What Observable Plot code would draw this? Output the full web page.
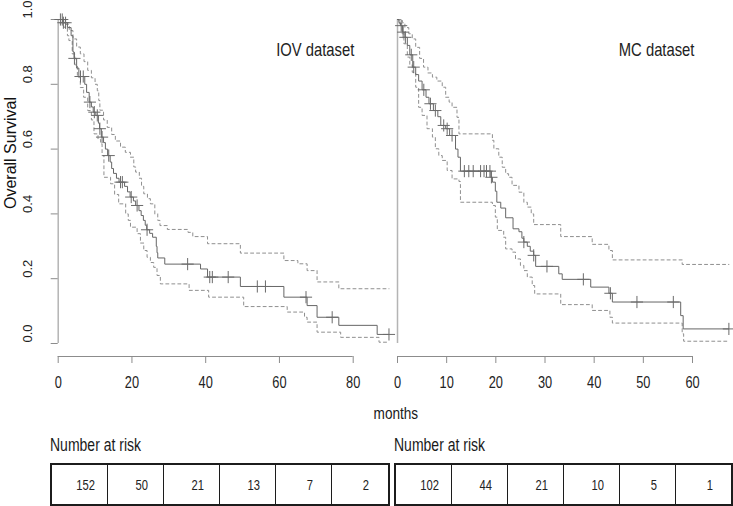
<!DOCTYPE html>
<html><head><meta charset="utf-8">
<script src="https://cdn.jsdelivr.net/npm/d3@7"></script>
<script src="https://cdn.jsdelivr.net/npm/@observablehq/plot@0.6"></script>
<style>
html,body{margin:0;padding:0;background:#fff;}
#chart{position:relative;width:733px;height:506px;overflow:hidden;background:#fff;font-family:"Liberation Sans",Arial,sans-serif;color:#1a1a1a;}
#chart svg{position:absolute;top:0;}
.lbl{position:absolute;height:20px;line-height:20px;white-space:nowrap;}
.lbl span{display:inline-block;transform:scaleX(0.8);}
.risk{position:absolute;top:463px;height:43px;box-sizing:border-box;border:2px solid #1c1c1c;display:flex;}
.risk div{flex:1;display:flex;align-items:center;justify-content:center;box-sizing:border-box;border-left:1.5px solid #1c1c1c;padding-left:12px;font-size:14px;color:#222;}
.risk div:first-child{border-left:none;}
.risk span{display:inline-block;transform:scaleX(0.8);}
</style></head><body><div id="chart"></div><script>
// ---------- data ----------
const survTicks = [0, 0.2, 0.4, 0.6, 0.8, 1.0];
const iovTicks = [0, 20, 40, 60, 80];
const mcTicks = [0, 10, 20, 30, 40, 50, 60];

// IOV dataset: [months, survival]
const iovKM = [[0,1],[1.2,0.99],[2.5,0.975],[3.5,0.95],[4.0,0.90],[4.3,0.88],[5.0,0.85],[5.6,0.824],[7.2,0.80],[7.7,0.775],[8.4,0.745],[9.0,0.73],[9.5,0.714],[10.2,0.704],[10.9,0.68],[11.2,0.663],[11.7,0.637],[12.3,0.62],[12.8,0.60],[13.4,0.58],[14.1,0.56],[14.5,0.54],[15.0,0.525],[15.8,0.51],[16.5,0.498],[18.0,0.485],[18.8,0.468],[19.5,0.452],[20.4,0.44],[21.0,0.426],[21.9,0.41],[22.5,0.395],[23.1,0.38],[23.6,0.365],[24.0,0.351],[24.8,0.34],[25.6,0.328],[26.6,0.30],[26.8,0.28],[27.0,0.264],[28.9,0.245],[38.6,0.23],[40.5,0.205],[49.4,0.176],[61.2,0.143],[67.5,0.117],[70.2,0.081],[76.1,0.056],[86.5,0.028],[89.7,0.028]];
const iovUpper = [[0,1],[1.5,1],[2.0,0.985],[3.0,0.966],[4.0,0.94],[5.0,0.915],[6.0,0.894],[7.0,0.87],[8.0,0.843],[9.0,0.82],[10.0,0.80],[10.6,0.78],[11.0,0.75],[11.3,0.72],[12.3,0.69],[13.3,0.667],[14.5,0.645],[15.5,0.625],[16.9,0.606],[18.2,0.59],[19.6,0.575],[20.5,0.545],[21.0,0.529],[22.0,0.51],[22.6,0.485],[23.2,0.462],[24.2,0.447],[25.0,0.431],[26.2,0.40],[27.0,0.38],[27.6,0.364],[29.6,0.352],[35.2,0.343],[36.5,0.33],[40.5,0.308],[49.4,0.279],[61.2,0.256],[65.0,0.246],[67.5,0.225],[70.2,0.19],[76.1,0.169],[89.7,0.169]];
const iovLower = [[0,1],[1.5,0.976],[2.5,0.95],[2.9,0.935],[3.8,0.894],[4.5,0.86],[5.2,0.822],[6.0,0.79],[6.9,0.76],[8.0,0.719],[9.0,0.69],[9.7,0.647],[10.8,0.63],[11.5,0.616],[11.9,0.58],[12.4,0.513],[14.2,0.493],[15.3,0.46],[16.4,0.431],[18.3,0.40],[19.0,0.38],[19.6,0.359],[21.4,0.339],[22.3,0.31],[23.2,0.287],[24.1,0.266],[25.0,0.25],[25.9,0.235],[26.8,0.21],[27.7,0.184],[35.5,0.164],[40.8,0.143],[50.3,0.114],[62.1,0.097],[66.8,0.081],[67.5,0.066],[70.2,0.035],[76.6,0.019],[87.0,0.004],[89.7,0.004]];
const iovCensor = [0.6, 1.1, 1.4, 2.0, 4.4, 6.05, 6.8, 8.6, 9.8, 10.6, 11.3, 11.9, 13.7, 16.9, 17.4, 19.8, 21.4, 24.1, 35.1, 41.1, 41.8, 46.1, 54.0, 56.2, 67.2, 74.3, 89.7];
const iovRisk = [152, 50, 21, 13, 7, 2];

// MC dataset: [months, survival]
const mcKM = [[0,1],[0.3,0.99],[0.6,0.981],[1.0,0.961],[1.5,0.945],[2.0,0.92],[2.5,0.891],[3.1,0.853],[3.7,0.83],[4.3,0.81],[5.0,0.783],[5.8,0.76],[6.4,0.74],[7.3,0.719],[8.2,0.70],[8.8,0.673],[9.8,0.663],[10.6,0.642],[11.8,0.60],[12.3,0.575],[12.8,0.532],[19.0,0.513],[19.3,0.498],[19.9,0.47],[20.2,0.436],[21.0,0.418],[22.0,0.388],[23.5,0.354],[24.7,0.345],[25.3,0.325],[25.7,0.313],[26.4,0.30],[27.0,0.285],[27.7,0.272],[28.1,0.238],[32.8,0.215],[33.5,0.198],[39.3,0.174],[43.0,0.155],[43.7,0.128],[57.6,0.086],[58.1,0.045],[67.4,0.045]];
const mcUpper = [[0,1],[1.0,0.99],[1.5,0.975],[2.3,0.956],[3.0,0.94],[3.7,0.914],[4.5,0.88],[5.3,0.853],[6.2,0.835],[7.1,0.822],[8.0,0.81],[9.1,0.791],[9.8,0.76],[10.5,0.745],[11.1,0.729],[12.1,0.698],[12.5,0.647],[19.3,0.627],[19.6,0.601],[20.6,0.575],[21.3,0.544],[22.0,0.524],[22.6,0.513],[23.3,0.488],[24.7,0.467],[25.7,0.436],[26.4,0.421],[27.2,0.40],[27.7,0.367],[33.2,0.33],[39.6,0.306],[43.0,0.287],[43.7,0.258],[57.9,0.244],[67.4,0.244]];
const mcLower = [[0,1],[0.3,0.987],[0.95,0.956],[1.3,0.925],[2.0,0.884],[2.5,0.86],[3.0,0.837],[3.7,0.791],[4.3,0.729],[5.0,0.704],[6.0,0.663],[7.1,0.637],[7.7,0.601],[8.4,0.58],[9.1,0.565],[10.1,0.534],[11.1,0.508],[12.5,0.50],[12.8,0.436],[19.3,0.426],[19.9,0.39],[20.3,0.349],[21.6,0.328],[22.0,0.292],[23.3,0.282],[24.0,0.261],[25.0,0.241],[25.7,0.225],[26.4,0.205],[27.4,0.179],[27.9,0.153],[33.2,0.12],[39.6,0.102],[43.2,0.081],[43.7,0.063],[57.9,0.03],[58.2,0.007],[67.4,0.007]];
const mcCensor = [0.75, 1.15, 1.6, 2.8, 3.3, 5.35, 6.7, 7.7, 9.4, 10.1, 11.1, 13.6, 14.5, 15.4, 16.9, 17.6, 18.1, 18.8, 19.1, 25.7, 27.7, 30.4, 37.8, 43.3, 48.7, 56.1, 67.4];
const mcRisk = [102, 44, 21, 10, 5, 1];

// ---------- helpers ----------
const SANS = '"Liberation Sans", Arial, sans-serif';
const stepAt = (curve, t) => { let v = curve[0][1]; for (const [x, y] of curve) if (x <= t) v = y; return v; };
const kmLine = (data, stroke, dash) => Plot.line(data, {x: d => d[0], y: d => d[1], curve: "step-after", stroke, strokeWidth: 1, strokeDasharray: dash});
const censorDots = (times, km) => Plot.dot(times, {x: d => d, y: d => stepAt(km, d), symbol: "plus", r: 4, stroke: "#6a6a6a", strokeWidth: 1});
const chart = document.getElementById("chart");
const squeeze = svg => {
  svg.querySelectorAll("text").forEach(t => {
    const tr = t.getAttribute("transform") || "";
    if (!tr.includes("rotate")) t.setAttribute("transform", tr + " scale(0.8,1)");
  });
  return svg;
};

// ---------- left panel (IOV) ----------
const left = Plot.plot({
  width: 390, height: 400,
  marginLeft: 57.7, marginRight: 37.3, marginTop: 19, marginBottom: 44,
  x: {domain: [0, 90], range: [57.7, 57.7 + 90 * 3.6875], axis: null},
  y: {domain: [0, 1], range: [343, 19], axis: null},
  style: {overflow: "visible", fontFamily: SANS, background: "transparent", color: "#1a1a1a"},
  marks: [
    Plot.ruleX([0], {y1: 0, y2: 1, stroke: "#b4b4b4", strokeWidth: 1.5}),
    Plot.axisY(survTicks, {tickSize: 7, fill: "none", stroke: "#8c8c8c", label: null}),
    Plot.text(survTicks, {x: 0, y: d => d, text: d => d.toFixed(1), rotate: -90, dx: -30, dy: -10, fontSize: 13, fill: "#222"}),
    Plot.text(["Overall Survival"], {frameAnchor: "left", textAnchor: "middle", text: d => d, rotate: -90, dx: -47.5, dy: -35, fontSize: 16, fill: "#111"}),
    Plot.ruleY([0], {x1: 0, x2: 80, dy: 13, stroke: "#8c8c8c"}),
    Plot.axisX(iovTicks, {tickSize: 7, tickPadding: 13, fontSize: 16, stroke: "#8c8c8c", fill: "#222", label: null}),
    kmLine(iovUpper, "#8f8f8f", "3,3"),
    kmLine(iovLower, "#8f8f8f", "3,3"),
    kmLine(iovKM, "#666"),
    censorDots(iovCensor, iovKM),
    Plot.text(["IOV dataset"], {x: 69.7, y: 0.905, text: d => d, fontSize: 18.5, fill: "#222"})
  ]
});
left.style.left = "0px";
chart.appendChild(squeeze(left));

// ---------- right panel (MC) ----------
const right = Plot.plot({
  width: 343, height: 400,
  marginLeft: 7, marginRight: 41, marginTop: 19, marginBottom: 44,
  x: {domain: [0, 70], range: [7, 7 + 70 * 4.9167], axis: null},
  y: {domain: [0, 1], range: [343, 19], axis: null},
  style: {overflow: "visible", fontFamily: SANS, background: "transparent", color: "#1a1a1a"},
  marks: [
    Plot.ruleX([0], {y1: 0, y2: 1, stroke: "#b4b4b4", strokeWidth: 1.5}),
    Plot.ruleY([0], {x1: 0, x2: 60, dy: 13, stroke: "#8c8c8c"}),
    Plot.axisX(mcTicks, {tickSize: 7, tickPadding: 13, fontSize: 16, stroke: "#8c8c8c", fill: "#222", label: null}),
    kmLine(mcUpper, "#8f8f8f", "3,3"),
    kmLine(mcLower, "#8f8f8f", "3,3"),
    kmLine(mcKM, "#666"),
    censorDots(mcCensor, mcKM),
    Plot.text(["MC dataset"], {x: 52.7, y: 0.905, text: d => d, fontSize: 18.5, fill: "#222"})
  ]
});
right.style.left = "390px";
chart.appendChild(squeeze(right));

// ---------- labels and risk tables ----------
const root = d3.select(chart);
root.append("div").attr("class", "lbl")
  .style("left", "346px").style("width", "100px").style("top", "404px")
  .style("text-align", "center").style("font-size", "17px")
  .append("span").style("transform-origin", "center").text("months");
[[50, "Number at risk"], [394, "Number at risk"]].forEach(([x, t]) => {
  root.append("div").attr("class", "lbl")
    .style("left", x + "px").style("top", "435px").style("font-size", "17.5px")
    .append("span").style("transform-origin", "left center").text(t);
});
function riskTable(values, x, w) {
  root.append("div").attr("class", "risk").style("left", x + "px").style("width", w + "px")
    .selectAll("div").data(values).join("div").append("span").text(d => d);
}
riskTable(iovRisk, 50, 339.6);
riskTable(mcRisk, 394.4, 338.6);
</script></body></html>
